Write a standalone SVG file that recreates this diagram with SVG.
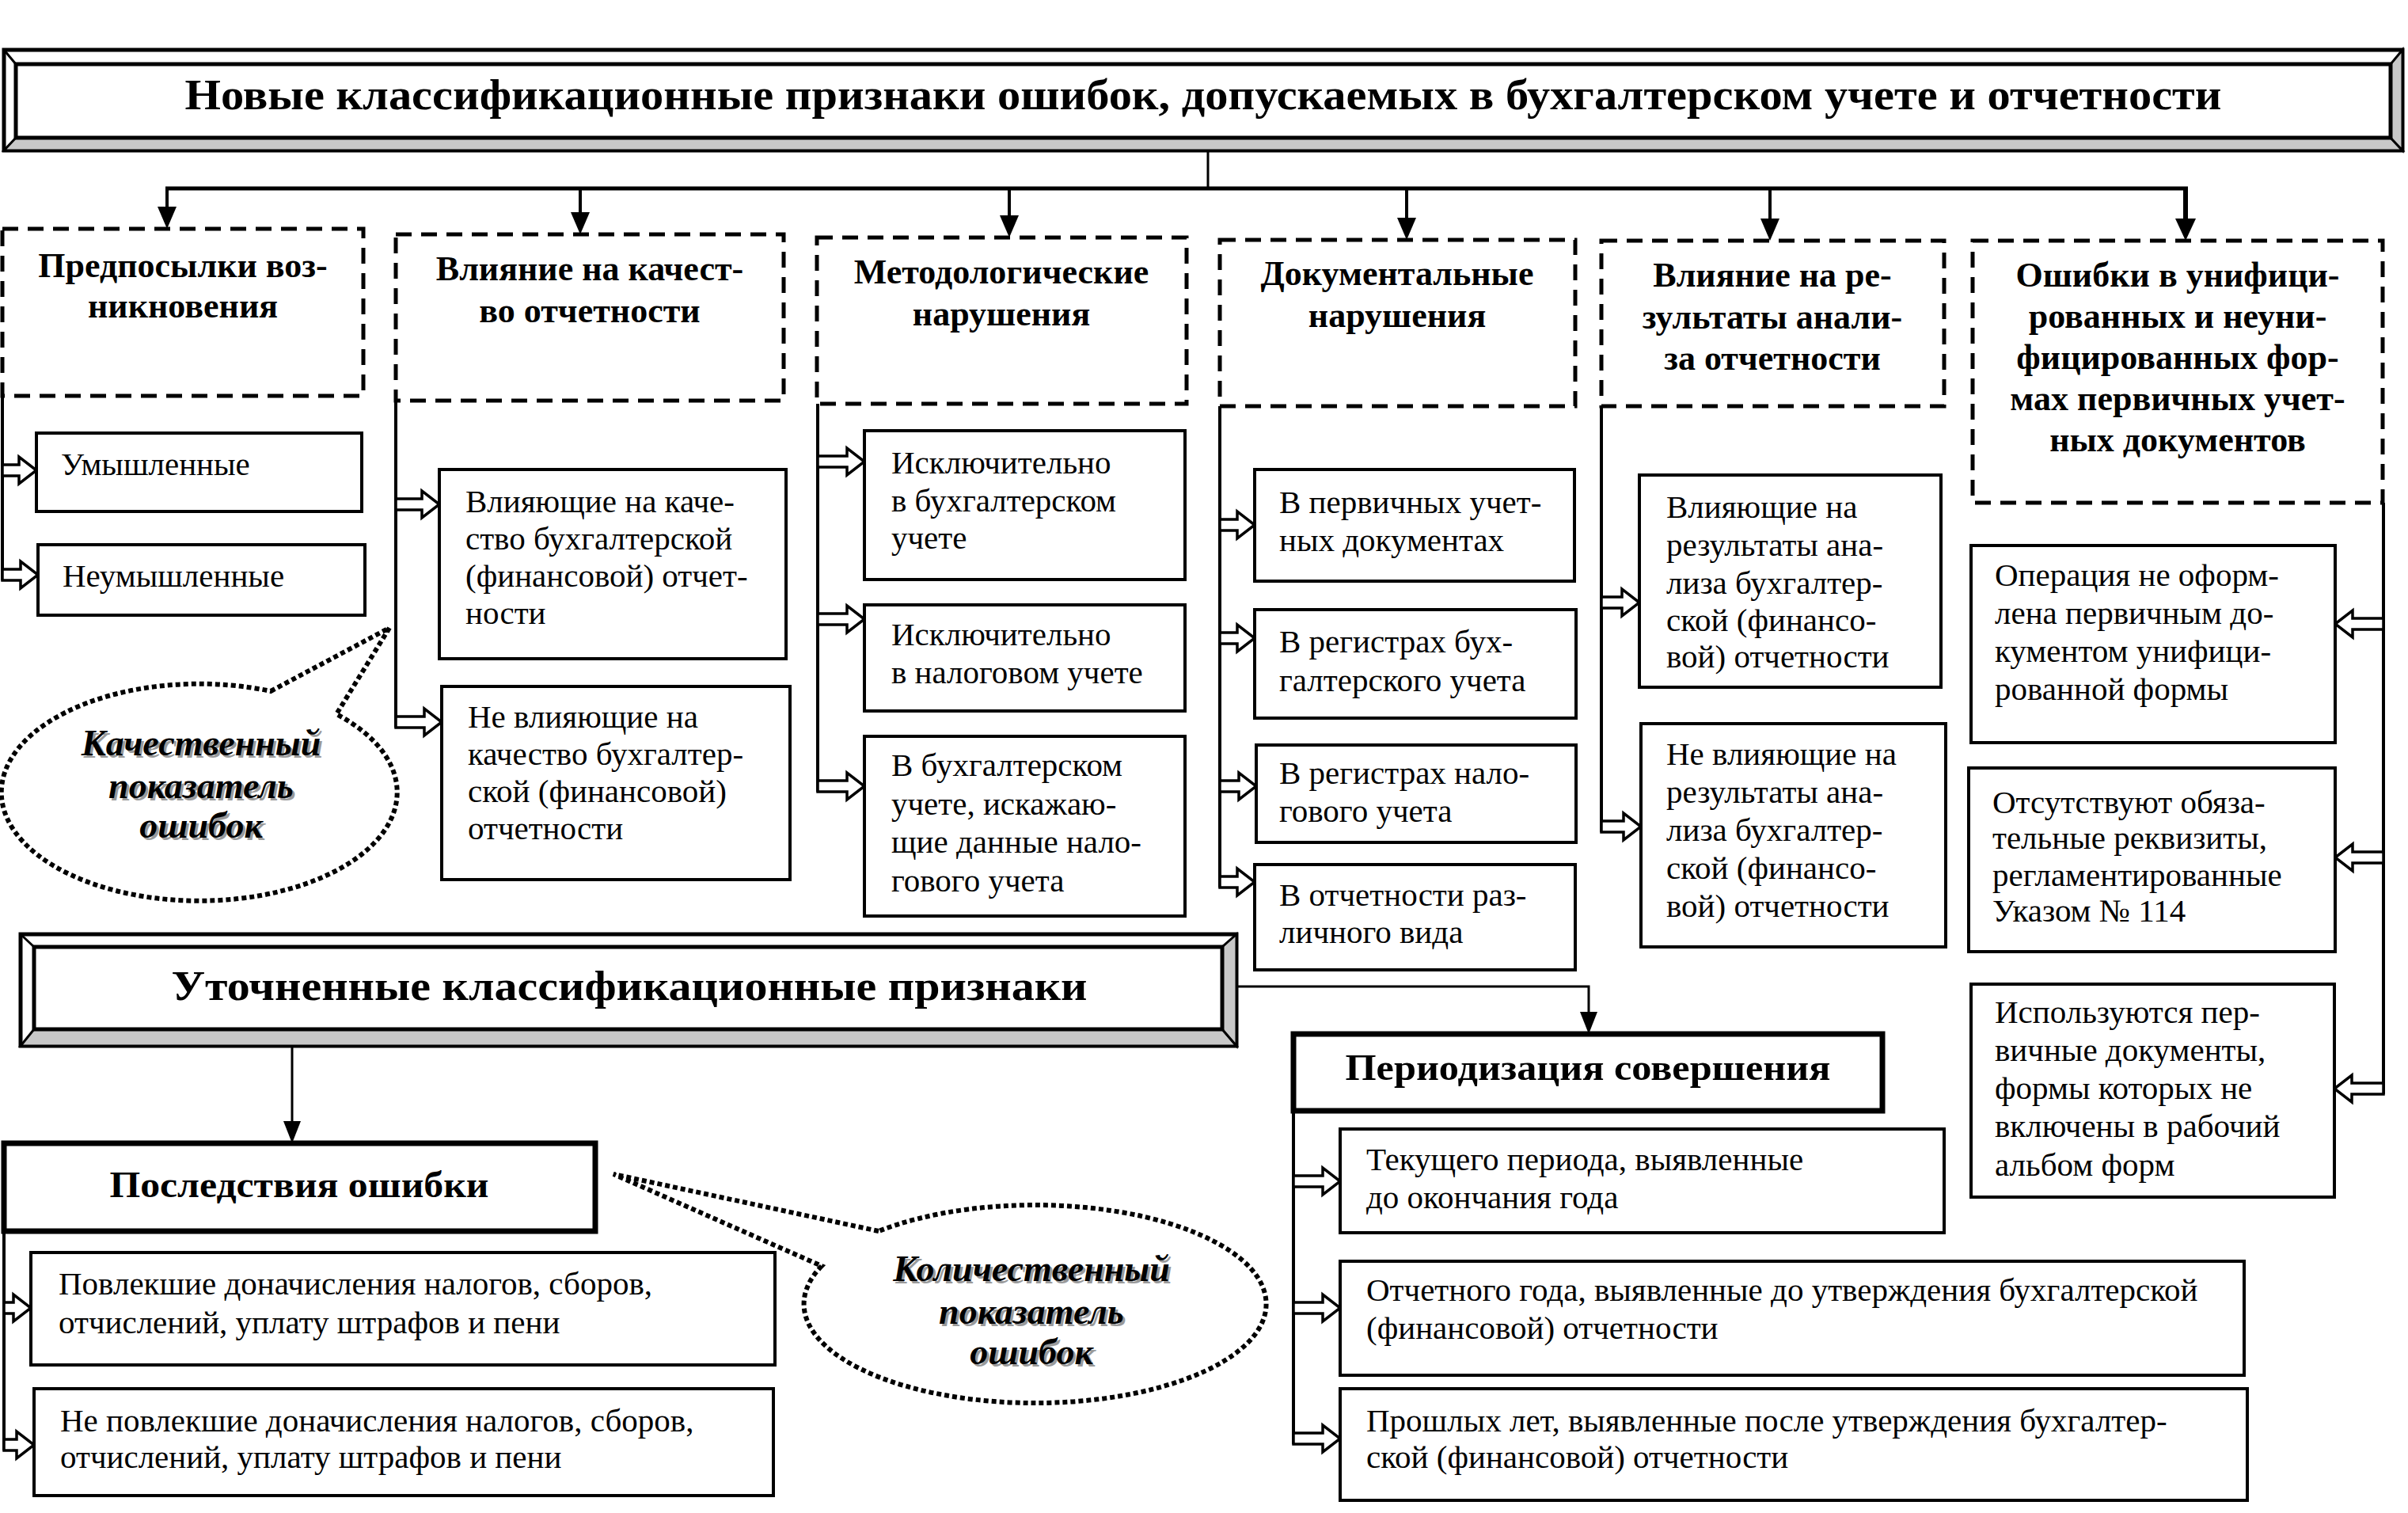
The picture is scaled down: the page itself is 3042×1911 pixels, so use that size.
<svg xmlns="http://www.w3.org/2000/svg" width="3042" height="1911" viewBox="0 0 3042 1911">
<style>
.box{fill:#fff;stroke:#000;stroke-width:4}
.dbox{fill:#fff;stroke:#000;stroke-width:5;stroke-dasharray:20 12}
.tb{fill:#fff;stroke:#000;stroke-width:7}
.bev{fill:#c8c8c8;stroke:#000;stroke-width:3}
.fr{fill:#fff;stroke:#000;stroke-width:5}
.ln{stroke:#000;stroke-width:4;fill:none}
.ha{fill:#fff;stroke:#000;stroke-width:3.5}
.ah{fill:#000;stroke:none}
.co{fill:#fff;stroke:#000;stroke-width:6;stroke-dasharray:6 4}
text{font-family:'Liberation Serif','Times New Roman',serif;fill:#000}
.t{font-size:41px}
.h{font-size:44px;font-weight:bold;text-anchor:middle}
.ci{font-size:46px;font-weight:bold;font-style:italic;text-anchor:middle}
.sh{fill:#9a9a9a}
</style>

<g id="connectors">
<line class="ln" x1="1526" y1="190" x2="1526" y2="238" style="stroke-width:3"/>
<line class="ln" x1="209" y1="238" x2="2764" y2="238" style="stroke-width:5"/>
<line class="ln" x1="211" y1="238" x2="211" y2="268"/>
<polygon class="ah" points="211,289 199,261 223,261"/>
<line class="ln" x1="733" y1="238" x2="733" y2="275"/>
<polygon class="ah" points="733,296 721,268 745,268"/>
<line class="ln" x1="1275" y1="238" x2="1275" y2="279"/>
<polygon class="ah" points="1275,300 1263,272 1287,272"/>
<line class="ln" x1="1777" y1="238" x2="1777" y2="282"/>
<polygon class="ah" points="1777,303 1765,275 1789,275"/>
<line class="ln" x1="2236" y1="238" x2="2236" y2="283"/>
<polygon class="ah" points="2236,304 2224,276 2248,276"/>
<line class="ln" x1="2761" y1="238" x2="2761" y2="283" style="stroke-width:6"/>
<polygon class="ah" points="2761,304 2748,276 2774,276"/>

<line class="ln" x1="3" y1="500" x2="3" y2="733"/>
<line class="ln" x1="500" y1="506" x2="500" y2="919"/>
<line class="ln" x1="1033" y1="510" x2="1033" y2="1000"/>
<line class="ln" x1="1541" y1="513" x2="1541" y2="1121"/>
<line class="ln" x1="2023" y1="513" x2="2023" y2="1051"/>
<line class="ln" x1="3011" y1="635" x2="3011" y2="1382"/>
<line class="ln" x1="5" y1="1555" x2="5" y2="1832"/>
<line class="ln" x1="1634" y1="1403" x2="1634" y2="1824"/>

<polygon class="ha" points="3,587 24,587 24,577 46,594 24,611 24,601 3,601"/>
<polygon class="ha" points="3,719 26,719 26,709 48,726 26,743 26,733 3,733"/>
<polygon class="ha" points="500,630 533,630 533,620 555,637 533,654 533,644 500,644"/>
<polygon class="ha" points="500,905 536,905 536,895 558,912 536,929 536,919 500,919"/>
<polygon class="ha" points="1033,576 1070,576 1070,566 1092,583 1070,600 1070,590 1033,590"/>
<polygon class="ha" points="1033,775 1070,775 1070,765 1092,782 1070,799 1070,789 1033,789"/>
<polygon class="ha" points="1033,986 1070,986 1070,976 1092,993 1070,1010 1070,1000 1033,1000"/>
<polygon class="ha" points="1541,656 1563,656 1563,646 1585,663 1563,680 1563,670 1541,670"/>
<polygon class="ha" points="1541,799 1563,799 1563,789 1585,806 1563,823 1563,813 1541,813"/>
<polygon class="ha" points="1541,986 1565,986 1565,976 1587,993 1565,1010 1565,1000 1541,1000"/>
<polygon class="ha" points="1541,1107 1563,1107 1563,1097 1585,1114 1563,1131 1563,1121 1541,1121"/>
<polygon class="ha" points="2023,754 2049,754 2049,744 2071,761 2049,778 2049,768 2023,768"/>
<polygon class="ha" points="2023,1037 2051,1037 2051,1027 2073,1044 2051,1061 2051,1051 2023,1051"/>
<polygon class="ha" points="3011,781 2972,781 2972,771 2950,788 2972,805 2972,795 3011,795"/>
<polygon class="ha" points="3011,1076 2972,1076 2972,1066 2950,1083 2972,1100 2972,1090 3011,1090"/>
<polygon class="ha" points="3011,1368 2971,1368 2971,1358 2949,1375 2971,1392 2971,1382 3011,1382"/>
<polygon class="ha" points="5,1645 17,1645 17,1635 39,1652 17,1669 17,1659 5,1659"/>
<polygon class="ha" points="5,1818 21,1818 21,1808 43,1825 21,1842 21,1832 5,1832"/>
<polygon class="ha" points="1634,1485 1671,1485 1671,1475 1693,1492 1671,1509 1671,1499 1634,1499"/>
<polygon class="ha" points="1634,1645 1671,1645 1671,1635 1693,1652 1671,1669 1671,1659 1634,1659"/>
<polygon class="ha" points="1634,1810 1671,1810 1671,1800 1693,1817 1671,1834 1671,1824 1634,1824"/>

<line class="ln" x1="369" y1="1321" x2="369" y2="1420" style="stroke-width:3"/>
<polygon class="ah" points="369,1444 358,1416 380,1416"/>
<polyline class="ln" points="1562,1246 2007,1246 2007,1282" style="stroke-width:3"/>
<polygon class="ah" points="2007,1306 1996,1278 2018,1278"/>
</g>

<g id="title">
<rect class="fr" x="5" y="63" width="3030" height="127"/>
<polygon class="bev" points="5,190 3035,190 3020,174 20,174"/>
<polygon class="bev" points="3035,63 3035,190 3020,174 3020,81"/>
<line class="ln" x1="5" y1="63" x2="20" y2="81" style="stroke-width:3"/>
<rect class="fr" x="20" y="81" width="3000" height="93"/>
<text x="1520" y="138" style="font-size:54px;font-weight:bold;text-anchor:middle" textLength="2573" lengthAdjust="spacingAndGlyphs">Новые классификационные признаки ошибок, допускаемых в бухгалтерском учете и отчетности</text>
</g>

<g id="h1">
<rect class="dbox" x="3" y="289" width="456" height="211"/>
<text class="h" x="231" y="350">Предпосылки воз-</text>
<text class="h" x="231" y="401">никновения</text>
</g>
<g id="h2">
<rect class="dbox" x="500" y="296" width="490" height="210"/>
<text class="h" x="745" y="354">Влияние на качест-</text>
<text class="h" x="745" y="407">во отчетности</text>
</g>
<g id="h3">
<rect class="dbox" x="1032" y="300" width="467" height="210"/>
<text class="h" x="1265" y="358">Методологические</text>
<text class="h" x="1265" y="411">нарушения</text>
</g>
<g id="h4">
<rect class="dbox" x="1541" y="303" width="449" height="210"/>
<text class="h" x="1765" y="360">Документальные</text>
<text class="h" x="1765" y="413">нарушения</text>
</g>
<g id="h5">
<rect class="dbox" x="2023" y="304" width="433" height="209"/>
<text class="h" x="2239" y="362">Влияние на ре-</text>
<text class="h" x="2239" y="415">зультаты анали-</text>
<text class="h" x="2239" y="467">за отчетности</text>
</g>
<g id="h6">
<rect class="dbox" x="2492" y="304" width="518" height="331"/>
<text class="h" x="2751" y="362">Ошибки в унифици-</text>
<text class="h" x="2751" y="414">рованных и неуни-</text>
<text class="h" x="2751" y="466">фицированных фор-</text>
<text class="h" x="2751" y="518">мах первичных учет-</text>
<text class="h" x="2751" y="570">ных документов</text>
</g>

<g id="b1a"><rect class="box" x="46" y="547" width="411" height="99"/>
<text class="t" x="77" y="600">Умышленные</text></g>
<g id="b1b"><rect class="box" x="48" y="688" width="413" height="89"/>
<text class="t" x="79" y="741">Неумышленные</text></g>

<g id="b2a"><rect class="box" x="555" y="593" width="438" height="239"/>
<text class="t" x="588" y="647">Влияющие на каче-</text>
<text class="t" x="588" y="694">ство бухгалтерской</text>
<text class="t" x="588" y="741">(финансовой) отчет-</text>
<text class="t" x="588" y="788">ности</text></g>
<g id="b2b"><rect class="box" x="558" y="867" width="440" height="244"/>
<text class="t" x="591" y="919">Не влияющие на</text>
<text class="t" x="591" y="966">качество бухгалтер-</text>
<text class="t" x="591" y="1013">ской (финансовой)</text>
<text class="t" x="591" y="1060">отчетности</text></g>

<g id="b3a"><rect class="box" x="1092" y="544" width="405" height="188"/>
<text class="t" x="1126" y="598">Исключительно</text>
<text class="t" x="1126" y="646">в бухгалтерском</text>
<text class="t" x="1126" y="693">учете</text></g>
<g id="b3b"><rect class="box" x="1092" y="764" width="405" height="134"/>
<text class="t" x="1126" y="815">Исключительно</text>
<text class="t" x="1126" y="863">в налоговом учете</text></g>
<g id="b3c"><rect class="box" x="1092" y="930" width="405" height="227"/>
<text class="t" x="1126" y="980">В бухгалтерском</text>
<text class="t" x="1126" y="1029">учете, искажаю-</text>
<text class="t" x="1126" y="1077">щие данные нало-</text>
<text class="t" x="1126" y="1126">гового учета</text></g>

<g id="b4a"><rect class="box" x="1585" y="593" width="404" height="141"/>
<text class="t" x="1616" y="648">В первичных учет-</text>
<text class="t" x="1616" y="696">ных документах</text></g>
<g id="b4b"><rect class="box" x="1585" y="770" width="406" height="137"/>
<text class="t" x="1616" y="824">В регистрах бух-</text>
<text class="t" x="1616" y="873">галтерского учета</text></g>
<g id="b4c"><rect class="box" x="1587" y="941" width="404" height="123"/>
<text class="t" x="1616" y="990">В регистрах нало-</text>
<text class="t" x="1616" y="1038">гового учета</text></g>
<g id="b4d"><rect class="box" x="1585" y="1092" width="405" height="133"/>
<text class="t" x="1616" y="1144">В отчетности раз-</text>
<text class="t" x="1616" y="1191">личного вида</text></g>

<g id="b5a"><rect class="box" x="2071" y="600" width="381" height="268"/>
<text class="t" x="2105" y="654">Влияющие на</text>
<text class="t" x="2105" y="702">результаты ана-</text>
<text class="t" x="2105" y="750">лиза бухгалтер-</text>
<text class="t" x="2105" y="797">ской (финансо-</text>
<text class="t" x="2105" y="843">вой) отчетности</text></g>
<g id="b5b"><rect class="box" x="2073" y="914" width="385" height="282"/>
<text class="t" x="2105" y="966">Не влияющие на</text>
<text class="t" x="2105" y="1014">результаты ана-</text>
<text class="t" x="2105" y="1062">лиза бухгалтер-</text>
<text class="t" x="2105" y="1110">ской (финансо-</text>
<text class="t" x="2105" y="1158">вой) отчетности</text></g>

<g id="b6a"><rect class="box" x="2490" y="689" width="460" height="249"/>
<text class="t" x="2520" y="740">Операция не оформ-</text>
<text class="t" x="2520" y="788">лена первичным до-</text>
<text class="t" x="2520" y="836">кументом унифици-</text>
<text class="t" x="2520" y="884">рованной формы</text></g>
<g id="b6b"><rect class="box" x="2487" y="970" width="463" height="232"/>
<text class="t" x="2517" y="1027">Отсутствуют обяза-</text>
<text class="t" x="2517" y="1072">тельные реквизиты,</text>
<text class="t" x="2517" y="1119">регламентированные</text>
<text class="t" x="2517" y="1164">Указом № 114</text></g>
<g id="b6c"><rect class="box" x="2490" y="1243" width="459" height="269"/>
<text class="t" x="2520" y="1292">Используются пер-</text>
<text class="t" x="2520" y="1340">вичные документы,</text>
<text class="t" x="2520" y="1388">формы которых не</text>
<text class="t" x="2520" y="1436">включены в рабочий</text>
<text class="t" x="2520" y="1485">альбом форм</text></g>

<g id="callout1">
<path class="co" d="M342,873 L492,793 L425,902 A250,137 0 1 1 342,873 Z"/>
<text class="ci sh" x="257" y="957">Качественный</text>
<text class="ci sh" x="257" y="1011">показатель</text>
<text class="ci sh" x="257" y="1061">ошибок</text>
<text class="ci" x="254" y="954">Качественный</text>
<text class="ci" x="254" y="1008">показатель</text>
<text class="ci" x="254" y="1058">ошибок</text>
</g>

<g id="subtitle">
<rect class="fr" x="26" y="1180" width="1536" height="141"/>
<polygon class="bev" points="26,1321 1562,1321 1544,1300 43,1300"/>
<polygon class="bev" points="1562,1180 1562,1321 1544,1300 1544,1196"/>
<line class="ln" x1="26" y1="1180" x2="43" y2="1196" style="stroke-width:3"/>
<rect class="fr" x="43" y="1196" width="1501" height="104"/>
<text x="795" y="1263" style="font-size:52px;font-weight:bold;text-anchor:middle" textLength="1157" lengthAdjust="spacingAndGlyphs">Уточненные классификационные признаки</text>
</g>

<g id="b7"><rect class="tb" x="5" y="1444" width="747" height="111"/>
<text class="h" x="378" y="1512" style="font-size:46px" textLength="479" lengthAdjust="spacingAndGlyphs">Последствия ошибки</text></g>
<g id="b7a"><rect class="box" x="39" y="1582" width="940" height="142"/>
<text class="t" x="74" y="1635">Повлекшие доначисления налогов, сборов,</text>
<text class="t" x="74" y="1684">отчислений, уплату штрафов и пени</text></g>
<g id="b7b"><rect class="box" x="43" y="1754" width="934" height="135"/>
<text class="t" x="76" y="1808">Не повлекшие доначисления налогов, сборов,</text>
<text class="t" x="76" y="1854">отчислений, уплату штрафов и пени</text></g>

<g id="callout2">
<path class="co" d="M1110,1555 L775,1483 L1038,1599 A292,125 0 1 0 1110,1555 Z"/>
<text class="ci sh" x="1306" y="1621">Количественный</text>
<text class="ci sh" x="1306" y="1675">показатель</text>
<text class="ci sh" x="1306" y="1726">ошибок</text>
<text class="ci" x="1303" y="1618">Количественный</text>
<text class="ci" x="1303" y="1672">показатель</text>
<text class="ci" x="1303" y="1723">ошибок</text>
</g>

<g id="b8"><rect class="tb" x="1634" y="1306" width="744" height="97"/>
<text class="h" x="2006" y="1364" style="font-size:46px" textLength="613" lengthAdjust="spacingAndGlyphs">Периодизация совершения</text></g>
<g id="b8a"><rect class="box" x="1693" y="1426" width="763" height="131"/>
<text class="t" x="1726" y="1478">Текущего периода, выявленные</text>
<text class="t" x="1726" y="1526">до окончания года</text></g>
<g id="b8b"><rect class="box" x="1693" y="1593" width="1142" height="144"/>
<text class="t" x="1726" y="1643">Отчетного года, выявленные до утверждения бухгалтерской</text>
<text class="t" x="1726" y="1691">(финансовой) отчетности</text></g>
<g id="b8c"><rect class="box" x="1693" y="1754" width="1146" height="141"/>
<text class="t" x="1726" y="1808">Прошлых лет, выявленные после утверждения бухгалтер-</text>
<text class="t" x="1726" y="1854">ской (финансовой) отчетности</text></g>
</svg>
